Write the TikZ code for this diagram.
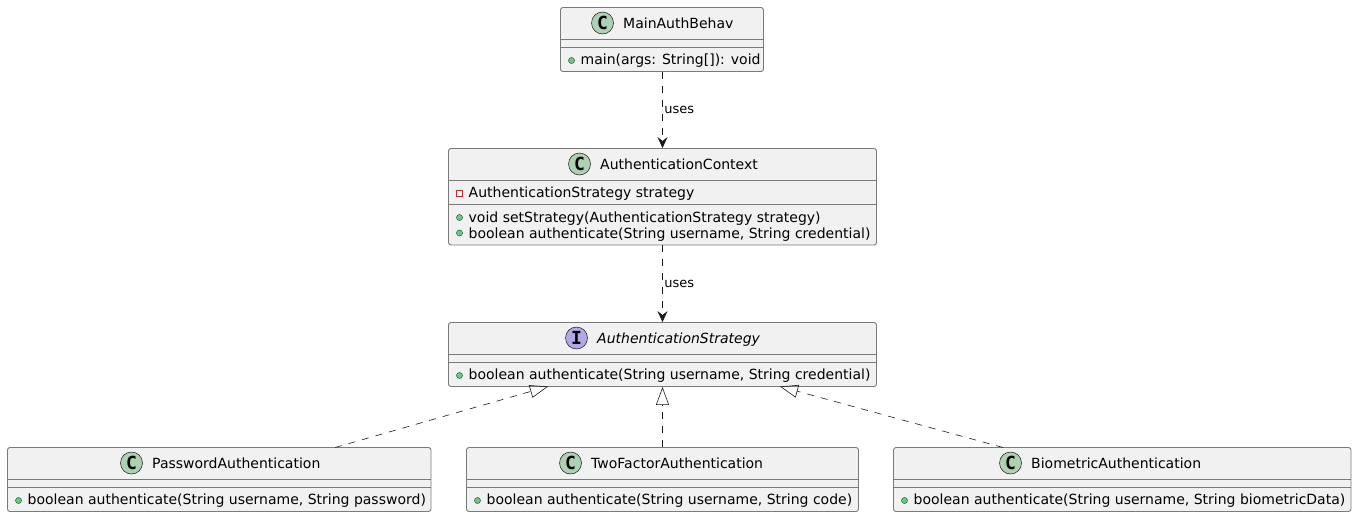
\documentclass[tikz,border=0pt]{standalone}
\usepackage{fontspec}
\setmainfont{DejaVu Sans}
\newfontfamily\spotfont{DejaVu Sans Mono}
\usetikzlibrary{arrows.meta}
\definecolor{boxfill}{HTML}{F1F1F1}
\definecolor{boxline}{HTML}{7A7A7A}
\definecolor{linkline}{HTML}{181818}
\definecolor{classspot}{HTML}{ADD1B2}
\definecolor{ifacespot}{HTML}{B4A7E5}
\definecolor{pubfill}{HTML}{84BE84}
\definecolor{publine}{HTML}{038048}
\definecolor{privline}{HTML}{C82930}
\tikzset{
    umlbox/.style={draw=boxline, fill=boxfill, line width=0.9pt, rounded corners=2.5pt, inner sep=0pt},
    sepline/.style={draw=boxline, line width=0.9pt},
    spot/.style={circle, draw=linkline, line width=0.5pt, minimum size=22pt, inner sep=0pt, font=\spotfont\bfseries\fontsize{18}{18}\selectfont},
    pubdot/.style={circle, draw=publine, fill=pubfill, line width=0.6pt, minimum size=6pt, inner sep=0pt},
    privdot/.style={rectangle, draw=privline, line width=0.6pt, minimum size=6pt, inner sep=0pt},
    txt/.style={anchor=base west, inner sep=0pt},
    uses/.style={draw=linkline, line width=0.6pt, dash pattern=on 7pt off 7pt, -{Stealth[length=11pt,width=10pt,inset=4pt,fill=linkline]}},
    realizes/.style={draw=linkline, line width=0.6pt, dash pattern=on 7pt off 7pt, -{Triangle[open,length=18pt,width=13pt,fill=none]}},
    lbl/.style={right, inner sep=1.5pt, font=\fontsize{13}{15}\selectfont}
}
\begin{document}
\begin{tikzpicture}[x=1pt, y=-1pt, font=\fontsize{14}{16}\selectfont]
    \useasboundingbox (0,0) rectangle (1357,517);

    % Boxes with one empty field and one method
    \foreach \name/\bx/\by/\wid/\headx/\spotcol/\spotchar/\head/\member in {
        main/560.5/7.5/203/623/classspot/C/MainAuthBehav/{main(args: String[]): void},
        strategy/448.5/322.5/428/597/ifacespot/I/{\itshape AuthenticationStrategy}/{boolean authenticate(String username, String credential)},
        password/7.5/447.5/423.5/152/classspot/C/PasswordAuthentication/{boolean authenticate(String username, String password)},
        twofactor/466.5/447.5/392/591/classspot/C/TwoFactorAuthentication/{boolean authenticate(String username, String code)},
        biometric/893.5/447.5/457.5/1031/classspot/C/BiometricAuthentication/{boolean authenticate(String username, String biometricData)}}
    {
        \node[umlbox, minimum width=\wid, minimum height=64] (\name) at ({\bx+\wid/2},{\by+32}) {};
        \draw[sepline] (\name.north west) ++(0,32) -- ++(\wid,0);
        \draw[sepline] (\name.north west) ++(0,40) -- ++(\wid,0);
        \node[spot, fill=\spotcol] (\name spot) at ({\headx-20.5},{\by+15.5}) {\spotchar};
        \node[txt] (\name head) at (\headx,{\by+20.5}) {\head};
        \node[pubdot] (\name dot) at ({\bx+11},{\by+53}) {};
        \node[txt] (\name text) at ({\bx+20},{\by+56.5}) {\member};
    }

    % The context box has three fields
    \node[umlbox, minimum width=428, minimum height=96.5] (context) at (662.5,196.75) {};
    \draw[sepline] (context.north west) ++(0,32) -- ++(428,0);
    \draw[sepline] (context.north west) ++(0,56) -- ++(428,0);
    \node[spot, fill=classspot] (context spot) at (579.5,164) {C};
    \node[txt] (context head) at (600,169) {AuthenticationContext};
    \node[privdot] (context field dot) at (459.5,193) {};
    \node[txt] (context field) at (468.5,197) {AuthenticationStrategy strategy};
    \node[pubdot] (context set dot) at (459.5,217.5) {};
    \node[txt] (context set) at (468.5,222) {void setStrategy(AuthenticationStrategy strategy)};
    \node[pubdot] (context auth dot) at (459.5,233) {};
    \node[txt] (context auth) at (468.5,238) {boolean authenticate(String username, String credential)};

    % Free ends of the slanted lines
    \coordinate (password from) at (335,447.5);
    \coordinate (strategy left) at (548,386.5);
    \coordinate (biometric from) at (1003,447.5);
    \coordinate (strategy right) at (780,386.5);

    % Connectors
    \draw[uses] (main.south -| context.north) -- node[lbl] {uses} (context.north);
    \draw[uses] (context.south) -- node[lbl] {uses} (strategy.north);
    \draw[realizes] (password from) -- (strategy left);
    \draw[realizes] (twofactor.north -| strategy.south) -- (strategy.south);
    \draw[realizes] (biometric from) -- (strategy right);
\end{tikzpicture}
\end{document}
